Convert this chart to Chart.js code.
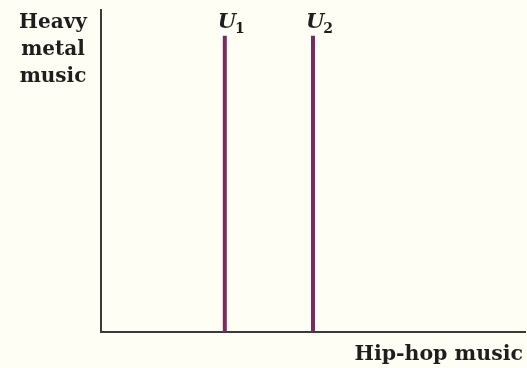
<!DOCTYPE html>
<html>
<head>
<meta charset="utf-8">
<script src="https://cdn.jsdelivr.net/npm/chart.js@4"></script>
<style>
  html, body { margin: 0; padding: 0; background: #fefef4; }
  #wrap { width: 527px; height: 368px; position: relative; }
</style>
</head>
<body>
<div id="wrap"><canvas id="chart"></canvas></div>
<script>
// Indifference curves (vertical lines): position on hip-hop axis
const curveNames = ['U1', 'U2'];
const curveX = [2.92, 5.0];
const curveTop = 9.2;
const xMax = 10;
const yMax = 10;
const yTitleLines = ['Heavy', 'metal', 'music'];
const xTitle = 'Hip-hop music';

const lineColor = '#7a2d5c';

const datasets = curveNames.map((name, i) => ({
    label: name,
    data: [{ x: curveX[i], y: 0 }, { x: curveX[i], y: curveTop }],
    borderColor: lineColor,
    borderWidth: 4,
    pointRadius: 0,
    showLine: true,
    fill: false
}));

// draws the axis titles and U labels
const labelPlugin = {
    id: 'labels',
    afterDraw(chart) {
        const ctx = chart.ctx;
        const area = chart.chartArea;
        ctx.save();
        ctx.fillStyle = '#1e1e1e';
        ctx.font = 'bold 20px "DejaVu Serif"';
        ctx.textAlign = 'center';
        ctx.textBaseline = 'alphabetic';
        yTitleLines.forEach((t, i) => {
            ctx.fillText(t, 53, 28 + i * 27);
        });
        ctx.textAlign = 'right';
        ctx.font = 'bold 20.5px "DejaVu Serif"';
        ctx.fillText(xTitle, area.right - 2, 360);

        // U labels with subscript
        chart.data.datasets.forEach((ds, i) => {
            const meta = chart.getDatasetMeta(i);
            const top = meta.data[1];
            const letter = ds.label.charAt(0);
            const sub = ds.label.slice(1);
            ctx.font = 'italic bold 21px "DejaVu Serif"';
            ctx.textAlign = 'left';
            const w = ctx.measureText(letter).width;
            const x0 = top.x - 7;
            ctx.fillText(letter, x0, top.y - 8);
            ctx.font = 'bold 14px "DejaVu Serif"';
            ctx.fillText(sub, x0 + w - 1, top.y - 3);
        });
        ctx.restore();
    }
};

new Chart(document.getElementById('chart'), {
    type: 'scatter',
    data: { datasets: datasets },
    options: {
        responsive: true,
        maintainAspectRatio: false,
        animation: false,
        layout: { padding: { left: 101, right: 2, top: 10, bottom: 36 } },
        plugins: { legend: { display: false }, tooltip: { enabled: false } },
        scales: {
            x: {
                type: 'linear', min: 0, max: xMax,
                ticks: { display: false },
                grid: { display: false, drawTicks: false },
                border: { display: true, color: '#3a3a3a', width: 2 }
            },
            y: {
                type: 'linear', min: 0, max: yMax,
                ticks: { display: false },
                grid: { display: false, drawTicks: false },
                border: { display: true, color: '#3a3a3a', width: 2 }
            }
        }
    },
    plugins: [labelPlugin]
});
</script>
</body>
</html>
